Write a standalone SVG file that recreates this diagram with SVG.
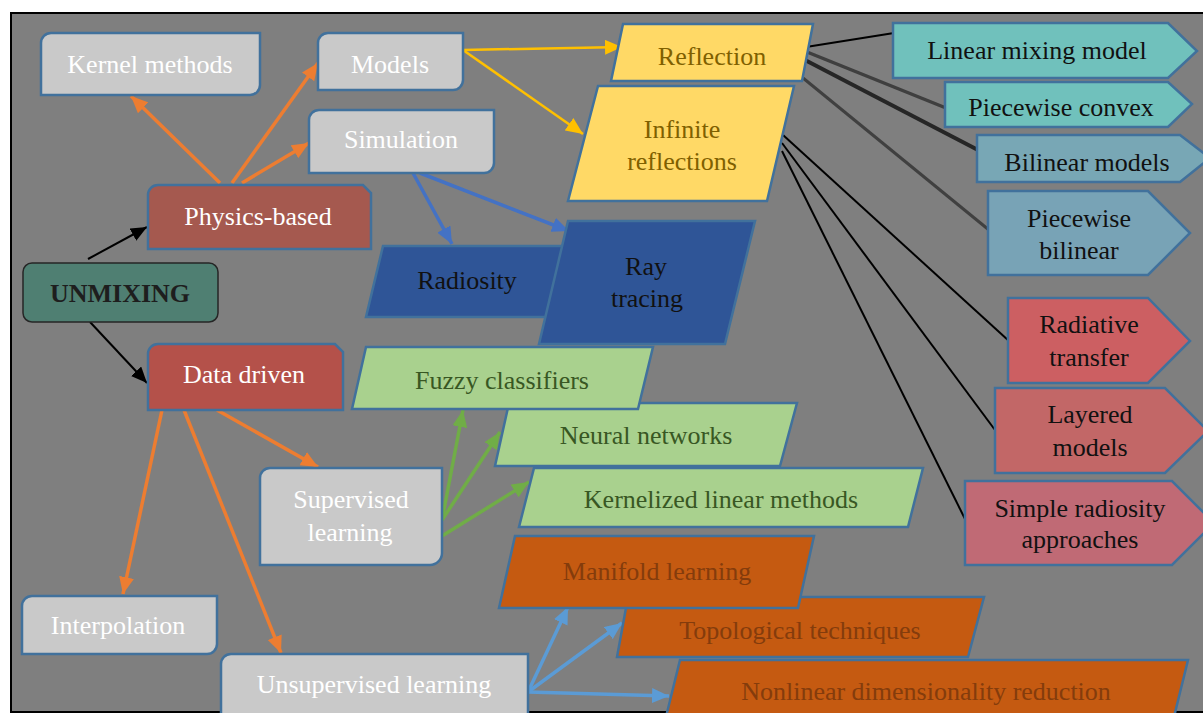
<svg xmlns="http://www.w3.org/2000/svg" width="1203" height="713" viewBox="0 0 1203 713">
<defs>
<style>
text{font-family:"Liberation Serif","Times New Roman",serif;font-size:26px;text-anchor:middle}
.nd{stroke:#41719c;stroke-width:2.5}
.gray{fill:#c9c9c9}
.wt{fill:#ffffff}
.yl{fill:#ffd966}
.ylt{fill:#7f6000}
.db{fill:#2f5597}
.gr{fill:#a9d18e}
.grt{fill:#385723}
.or{fill:#c55a11}
.ort{fill:#843c0c}
.dk{fill:#111111}
.ca{fill:none;stroke:#000;stroke-width:2}
.co{fill:none;stroke:#ed7d31;stroke-width:3.5}
.cy{fill:none;stroke:#ffc000;stroke-width:2.5}
.cb{fill:none;stroke:#4472c4;stroke-width:3.5}
.cg{fill:none;stroke:#70ad47;stroke-width:3.5}
.cl{fill:none;stroke:#5b9bd5;stroke-width:3.5}
</style>
<marker id="ak" markerUnits="userSpaceOnUse" markerWidth="16" markerHeight="14" refX="16" refY="7" orient="auto"><path d="M0,0 L16,7 L0,14 z" fill="#000"/></marker>
<marker id="ao" markerUnits="userSpaceOnUse" markerWidth="17" markerHeight="15" refX="17" refY="7.5" orient="auto"><path d="M0,0 L17,7.5 L0,15 z" fill="#ed7d31"/></marker>
<marker id="ay" markerUnits="userSpaceOnUse" markerWidth="17" markerHeight="15" refX="17" refY="7.5" orient="auto"><path d="M0,0 L17,7.5 L0,15 z" fill="#ffc000"/></marker>
<marker id="ab" markerUnits="userSpaceOnUse" markerWidth="17" markerHeight="15" refX="17" refY="7.5" orient="auto"><path d="M0,0 L17,7.5 L0,15 z" fill="#4472c4"/></marker>
<marker id="ag" markerUnits="userSpaceOnUse" markerWidth="17" markerHeight="15" refX="17" refY="7.5" orient="auto"><path d="M0,0 L17,7.5 L0,15 z" fill="#70ad47"/></marker>
<marker id="al" markerUnits="userSpaceOnUse" markerWidth="17" markerHeight="15" refX="17" refY="7.5" orient="auto"><path d="M0,0 L17,7.5 L0,15 z" fill="#5b9bd5"/></marker>
</defs>
<rect x="0" y="0" width="1203" height="713" fill="#ffffff"/>
<rect x="11" y="13" width="1200" height="699" fill="#7f7f7f" stroke="#000" stroke-width="2"/>

<g id="connectors">
<line class="ca" x1="88" y1="259" x2="147" y2="227" marker-end="url(#ak)"/>
<line class="ca" x1="90" y1="322" x2="147" y2="383" marker-end="url(#ak)"/>
<line class="co" x1="220" y1="183" x2="131" y2="96" marker-end="url(#ao)"/>
<line class="co" x1="232" y1="183" x2="318" y2="63" marker-end="url(#ao)"/>
<line class="co" x1="242" y1="183" x2="309" y2="143" marker-end="url(#ao)"/>
<line class="cy" x1="463" y1="50" x2="622" y2="47" marker-end="url(#ay)"/>
<line class="cy" x1="463" y1="50" x2="583" y2="134" marker-end="url(#ay)"/>
<line class="cb" x1="413" y1="173" x2="452" y2="244" marker-end="url(#ab)"/>
<line class="cb" x1="420" y1="173" x2="569" y2="231" marker-end="url(#ab)"/>
<line x1="806" y1="47" x2="894" y2="33" stroke="#000" stroke-width="2"/>
<line x1="807" y1="52" x2="946" y2="108" stroke="#3f3f3f" stroke-width="3.5"/>
<line x1="805" y1="60" x2="978" y2="150" stroke="#262626" stroke-width="4"/>
<line x1="803" y1="78" x2="989" y2="230" stroke="#404040" stroke-width="3"/>
<line x1="783" y1="135" x2="1009" y2="341" stroke="#000" stroke-width="2"/>
<line x1="782" y1="143" x2="995" y2="430" stroke="#000" stroke-width="2"/>
<line x1="782" y1="151" x2="966" y2="521" stroke="#000" stroke-width="2"/>
<line class="co" x1="162" y1="410" x2="123" y2="594" marker-end="url(#ao)"/>
<line class="co" x1="184" y1="410" x2="281" y2="653" marker-end="url(#ao)"/>
<line class="co" x1="217" y1="410" x2="318" y2="467" marker-end="url(#ao)"/>
<line class="cg" x1="442" y1="520" x2="463" y2="410" marker-end="url(#ag)"/>
<line class="cg" x1="442" y1="520" x2="500" y2="432" marker-end="url(#ag)"/>
<line class="cg" x1="442" y1="536" x2="529" y2="482" marker-end="url(#ag)"/>
<line class="cl" x1="528" y1="692" x2="568" y2="607" marker-end="url(#al)"/>
<line class="cl" x1="528" y1="692" x2="622" y2="623" marker-end="url(#al)"/>
<line class="cl" x1="528" y1="692" x2="669" y2="696" marker-end="url(#al)"/>
</g>

<g id="kernel-methods">
<path class="nd gray" d="M41,43 A10,10 0 0 1 51,33 H260 V85 A10,10 0 0 1 250,95 H41 Z"/>
<text class="wt" x="150" y="73">Kernel methods</text>
</g>
<g id="models">
<path class="nd gray" d="M318,43 A10,10 0 0 1 328,33 H463 V80 A10,10 0 0 1 453,90 H318 Z"/>
<text class="wt" x="390" y="73">Models</text>
</g>
<g id="simulation">
<path class="nd gray" d="M309,120 A10,10 0 0 1 319,110 H494 V163 A10,10 0 0 1 484,173 H309 Z"/>
<text class="wt" x="401" y="148">Simulation</text>
</g>
<g id="physics-based">
<path class="nd" fill="#a5594f" d="M148,195 A10,10 0 0 1 158,185 H363 L371,193 V249 H148 Z"/>
<text class="wt" x="258" y="225">Physics-based</text>
</g>
<g id="unmixing">
<rect x="23" y="263" width="195" height="59" rx="9" fill="#4f7f72" stroke="#262626" stroke-width="1.5"/>
<text x="120" y="302" fill="#1e1e1e" font-weight="bold">UNMIXING</text>
</g>
<g id="data-driven">
<path class="nd" fill="#b4514a" d="M148,354 A10,10 0 0 1 158,344 H335 L343,352 V410 H148 Z"/>
<text class="wt" x="244" y="383">Data driven</text>
</g>
<g id="reflection">
<path class="nd yl" d="M623,24 H813 L802,81 H611 Z"/>
<text class="ylt" x="712" y="65">Reflection</text>
</g>
<g id="infinite-reflections">
<path class="nd yl" d="M598,86 H794 L767,201 H568 Z"/>
<text class="ylt" x="682" y="138">Infinite</text>
<text class="ylt" x="682" y="170">reflections</text>
</g>
<g id="radiosity">
<path class="nd db" d="M383,246 H585 L568,317 H366 Z"/>
<text class="dk" x="467" y="289">Radiosity</text>
</g>
<g id="ray-tracing">
<path class="nd db" d="M568,221 H755 L725,344 H539 Z"/>
<text class="dk" x="646" y="275">Ray</text>
<text class="dk" x="647" y="307">tracing</text>
</g>
<g id="linear-mixing-model">
<path class="nd" fill="#70c1bc" d="M893,23 H1168 L1197,51 L1168,78 H893 Z"/>
<text class="dk" x="1037" y="59">Linear mixing model</text>
</g>
<g id="piecewise-convex">
<path class="nd" fill="#70c1bc" d="M945,82 H1168 L1192,104 L1168,127 H945 Z"/>
<text class="dk" x="1061" y="116">Piecewise convex</text>
</g>
<g id="bilinear-models">
<path class="nd" fill="#78a7b5" d="M977,135 H1180 L1210,158 L1180,182 H977 Z"/>
<text class="dk" x="1087" y="171">Bilinear models</text>
</g>
<g id="piecewise-bilinear">
<path class="nd" fill="#78a3b6" d="M988,191 H1148 L1190,233 L1148,275 H988 Z"/>
<text class="dk" x="1079" y="227">Piecewise</text>
<text class="dk" x="1079" y="259">bilinear</text>
</g>
<g id="radiative-transfer">
<path class="nd" fill="#cc5f62" d="M1008,298 H1148 L1190,341 L1148,383 H1008 Z"/>
<text class="dk" x="1089" y="333">Radiative</text>
<text class="dk" x="1089" y="366">transfer</text>
</g>
<g id="layered-models">
<path class="nd" fill="#c26767" d="M995,388 H1165 L1208,431 L1165,473 H995 Z"/>
<text class="dk" x="1090" y="423">Layered</text>
<text class="dk" x="1090" y="456">models</text>
</g>
<g id="simple-radiosity">
<path class="nd" fill="#c06a75" d="M965,481 H1172 L1214,523 L1172,565 H965 Z"/>
<text class="dk" x="1080" y="517">Simple radiosity</text>
<text class="dk" x="1080" y="548">approaches</text>
</g>
<g id="kernelized-linear-methods">
<path class="nd gr" d="M534,468 H923 L908,527 H519 Z"/>
<text class="grt" x="721" y="508">Kernelized linear methods</text>
</g>
<g id="neural-networks">
<path class="nd gr" d="M509,403 H797 L780,466 H495 Z"/>
<text class="grt" x="646" y="444">Neural networks</text>
</g>
<g id="fuzzy-classifiers">
<path class="nd gr" d="M366,347 H653 L638,409 H352 Z"/>
<text class="grt" x="502" y="389">Fuzzy classifiers</text>
</g>
<g id="supervised-learning">
<path class="nd gray" d="M260,478 A10,10 0 0 1 270,468 H442 V553 A12,12 0 0 1 430,565 H260 Z"/>
<text class="wt" x="351" y="508">Supervised</text>
<text class="wt" x="350" y="541">learning</text>
</g>
<g id="interpolation">
<path class="nd gray" d="M22,606 A10,10 0 0 1 32,596 H217 V644 A10,10 0 0 1 207,654 H22 Z"/>
<text class="wt" x="118" y="634">Interpolation</text>
</g>
<g id="unsupervised-learning">
<path class="nd gray" d="M221,664 A10,10 0 0 1 231,654 H528 V730 H221 Z"/>
<text class="wt" x="374" y="693">Unsupervised learning</text>
</g>
<g id="nonlinear-dimensionality-reduction">
<path class="nd or" d="M680,660 H1188 L1172,725 H664 Z"/>
<text class="ort" x="926" y="700">Nonlinear dimensionality reduction</text>
</g>
<g id="topological-techniques">
<path class="nd or" d="M628,597 H984 L968,657 H617 Z"/>
<text class="ort" x="800" y="639">Topological techniques</text>
</g>
<g id="manifold-learning">
<path class="nd or" d="M515,536 H814 L798,608 H499 Z"/>
<text class="ort" x="657" y="580">Manifold learning</text>
</g>
</svg>
